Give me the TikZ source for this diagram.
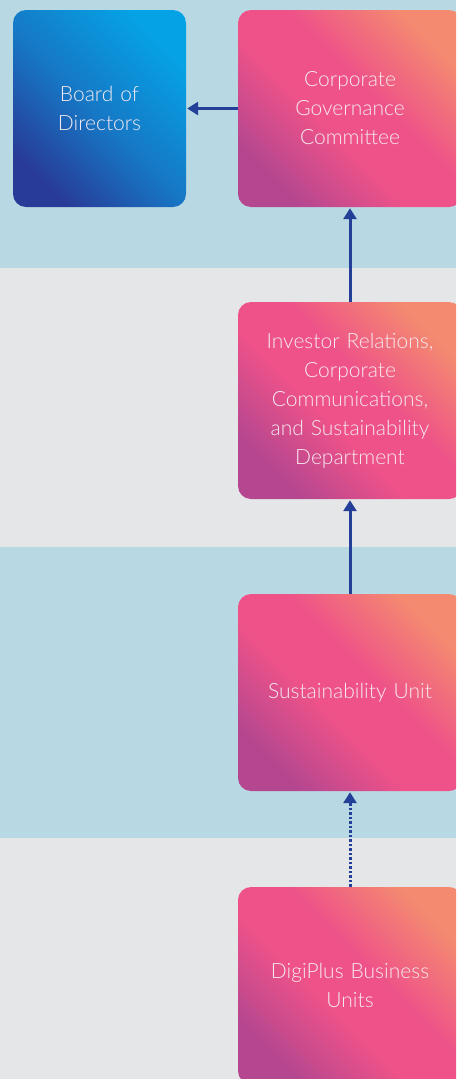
\documentclass[tikz,border=0pt]{standalone}
\usepackage{fontspec}
\setmainfont{Lato}[UprightFont={* Light}]
\usetikzlibrary{arrows.meta}

\definecolor{bandblue}{HTML}{B8D9E3}
\definecolor{bandgrey}{HTML}{E5E6E8}
\definecolor{pinkTR}{HTML}{F48A70}
\definecolor{pinkMid}{HTML}{EE5289}
\definecolor{pinkBL}{HTML}{B4478F}
\definecolor{blueTR}{HTML}{05A3E5}
\definecolor{blueMid}{HTML}{1677C5}
\definecolor{blueBL}{HTML}{283B97}
\definecolor{linkblue}{HTML}{243F97}
\definecolor{boxtext}{HTML}{F6EAF0}

% diagonal fills: dark corner at the bottom, light corner at the top
\pgfdeclareverticalshading{pinkfill}{100bp}{
  color(0bp)=(pinkBL); color(25bp)=(pinkBL); color(43bp)=(pinkMid);
  color(56bp)=(pinkMid); color(75bp)=(pinkTR); color(100bp)=(pinkTR)}
\pgfdeclareverticalshading{bluefill}{100bp}{
  color(0bp)=(blueBL); color(25bp)=(blueBL); color(48bp)=(blueMid);
  color(75bp)=(blueTR); color(100bp)=(blueTR)}

\tikzset{
  unitbox/.style={rounded corners=13pt, minimum height=197pt,
    align=center, text=boxtext, inner sep=0pt,
    font=\fontsize{21}{29}\selectfont},
  pinkbox/.style={unitbox, minimum width=224pt, text width=200pt,
    shade, shading=pinkfill, shading angle=-45},
  bluebox/.style={unitbox, minimum width=173pt, text width=160pt,
    shade, shading=bluefill, shading angle=-45},
  link/.style={draw=linkblue, line width=3pt,
    -{Triangle[width=13pt,length=11pt]}, shorten >=1pt},
  dottedlink/.style={link, dash pattern=on 2.5pt off 2pt},
}

\begin{document}
\begin{tikzpicture}[x=1pt, y=-1pt]
  \useasboundingbox (0,0) rectangle (456,1079);
  \clip (0,0) rectangle (456,1079);

  % background bands
  \fill[bandblue] (0,0) rectangle (456,268);
  \fill[bandgrey] (0,268) rectangle (456,547);
  \fill[bandblue] (0,547) rectangle (456,838);
  \fill[bandgrey] (0,838) rectangle (456,1079);

  % boxes
  \node[bluebox] (board) at (99.5,108.5) {Board of\\Directors};
  \node[pinkbox] (cgc) at (350,108.5) {Corporate\\Governance\\Committee};
  \node[pinkbox] (ir) at (350,400.5) {Investor Relations,\\Corporate\\Communications,\\and Sustainability\\Department};
  \node[pinkbox] (su) at (350,692.5) {Sustainability Unit};
  \node[pinkbox] (bu) at (350,985.5) {DigiPlus Business\\Units};

  % reporting lines
  \draw[link] (cgc.west) -- (board.east);
  \draw[link] (ir.north) -- (cgc.south);
  \draw[link] (su.north) -- (ir.south);
  \draw[dottedlink] (bu.north) -- (su.south);
\end{tikzpicture}
\end{document}
